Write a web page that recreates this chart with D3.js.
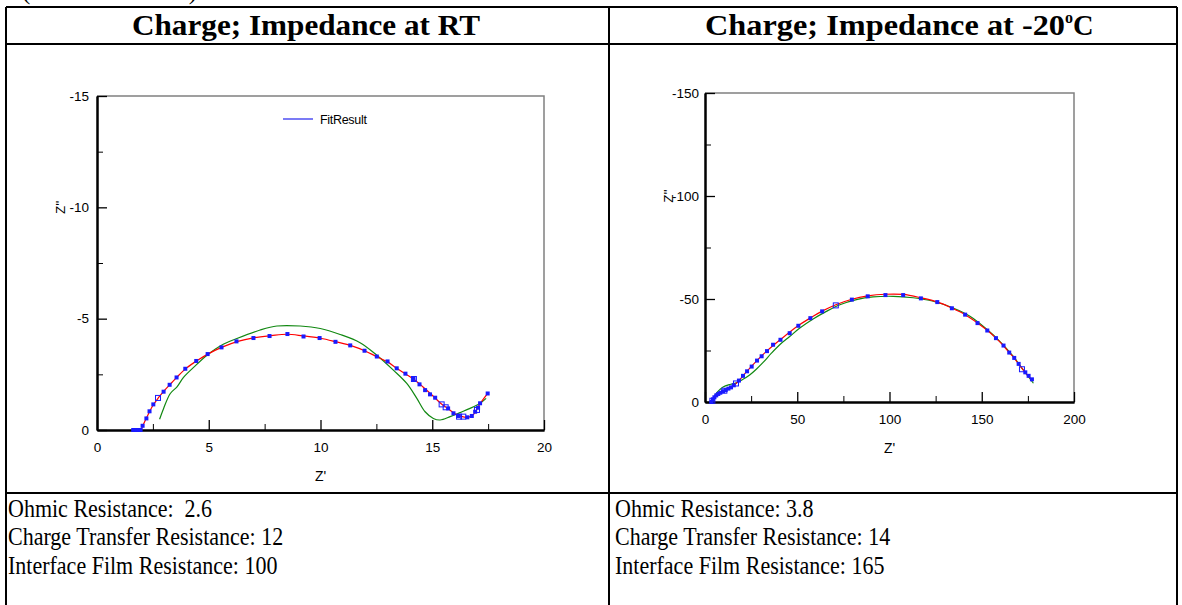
<!DOCTYPE html>
<html><head><meta charset="utf-8">
<script src="https://cdn.jsdelivr.net/npm/d3@7"></script>
<style>
html,body{margin:0;padding:0;background:#fff;}
svg{display:block;}
text.pre{white-space:pre;}
</style></head>
<body>
<svg id="c" width="1182" height="605"></svg>
<script>
// ---------- DATA ----------
const headers = ["Charge; Impedance at RT", "Charge; Impedance at -20"];
const notesLeft = ["Ohmic Resistance:  2.6", "Charge Transfer Resistance: 12", "Interface Film Resistance: 100"];
const notesRight = ["Ohmic Resistance: 3.8", "Charge Transfer Resistance: 14", "Interface Film Resistance: 165"];

const leftXTicks = [0, 5, 10, 15, 20];
const leftYTicks = [0, -5, -10, -15];
const rightXTicks = [0, 50, 100, 150, 200];
const rightYTicks = [0, -50, -100, -150];

// Z' vs Z'' (RT) measured points
const rtPoints = [[1.62,0],[1.7,0],[1.78,0],[1.86,0],[1.95,0],[2.04,-0.19],[2.21,-0.52],[2.35,-0.84],[2.52,-1.15],
 [2.98,-1.72],[3.25,-2.03],[3.56,-2.36],[3.95,-2.75],[4.44,-3.10],[4.95,-3.41],[5.57,-3.71],[6.24,-3.98],[7.0,-4.13],
 [7.72,-4.22],[8.52,-4.31],[9.24,-4.20],[9.96,-4.13],[10.67,-3.96],[11.33,-3.80],[11.97,-3.56],[12.52,-3.30],[13.0,-3.08],
 [13.41,-2.77],[13.80,-2.53],[14.16,-2.29],[14.43,-2.05],[14.68,-1.79],[14.90,-1.60],[15.13,-1.45],[15.71,-0.97],
 [15.95,-0.75],[16.17,-0.63],[16.57,-0.57],[16.77,-0.63],[16.92,-0.82],[17.05,-1.0],[17.14,-1.20],[17.48,-1.64]];
const rtPointsOpen = [[2.73,-1.44],[14.18,-2.29],[15.42,-1.15],[15.6,-1.02],[16.2,-0.6],[16.39,-0.60],[17.0,-0.9]];
// fit curve (red)
const rtFit = [[1.97,0],[2.1,-0.3],[2.3,-0.72],[2.5,-1.1],[2.75,-1.45],[3.0,-1.76],[3.3,-2.08],[3.6,-2.4],[4.0,-2.78],
 [4.5,-3.13],[5.0,-3.43],[5.6,-3.72],[6.3,-3.98],[7.0,-4.14],[7.8,-4.24],[8.5,-4.3],[9.2,-4.23],[10.0,-4.12],[10.7,-3.96],
 [11.4,-3.78],[12.0,-3.55],[12.5,-3.3],[13.0,-3.06],[13.4,-2.78],[13.8,-2.52],[14.2,-2.26],[14.6,-1.92],[15.0,-1.56],
 [15.4,-1.18],[15.7,-0.96],[16.0,-0.74],[16.3,-0.61],[16.6,-0.57],[16.85,-0.7],[17.1,-1.12],[17.48,-1.64]];
// simulated curve (green)
const rtSim = [[2.80,-0.48],[2.98,-0.97],[3.28,-1.64],[3.58,-1.94],[3.87,-2.36],[4.32,-2.81],[4.92,-3.36],[5.57,-3.81],
 [6.26,-4.11],[7.30,-4.49],[8.05,-4.67],[9.09,-4.67],[9.99,-4.56],[10.88,-4.29],[11.77,-3.92],[12.52,-3.36],[13.26,-2.69],
 [13.86,-2.09],[14.31,-1.42],[14.68,-0.82],[15.05,-0.52],[15.35,-0.45],[15.80,-0.60],[16.24,-0.78],[16.69,-0.97],
 [17.14,-1.20],[17.41,-1.42]];

// Z' vs Z'' (-20 C)
const lowPoints = [[3.6,0],[4.3,-1.3],[5.1,-2.3],[6.1,-3.2],[7.2,-3.9],[8.3,-4.5],[9.8,-5.2],[11.2,-5.8],[12.7,-6.5],
 [14.1,-7.1],[15.6,-8.1],[18.4,-10.4],[20.6,-12.7],[22.8,-14.9],[25.3,-17.2],[28.2,-20.1],[30.7,-22.2],[33.6,-24.7],
 [36.9,-27.8],[40.9,-30.2],[45.9,-33.4],[50.6,-37.0],[57.1,-40.7],[63.5,-44.0],[79.6,-49.7],[88.2,-51.3],
 [97.8,-51.9],[107.4,-51.9],[117.0,-50.3],[125.9,-48.5],[133.8,-45.5],[141.0,-42.4],[147.7,-38.3],[153.0,-34.7],
 [157.7,-31.0],[161.8,-27.4],[164.9,-24.0],[167.6,-21.4],[170.0,-18.5],[173.6,-14.4],[175.4,-12.7],[177.2,-11.0]];
const lowPointsOpen = [[4.0,-0.6],[10.5,-5.5],[16.8,-9.0],[70.9,-46.9],[171.8,-15.9]];
const lowFit = [[3.6,0],[4.5,-1.4],[6,-3.2],[8,-4.4],[10,-5.3],[12.7,-6.4],[15.6,-8.0],[18.4,-10.4],[22.8,-15.0],
 [28,-20.0],[33.6,-24.8],[40.9,-30.3],[50.6,-37.1],[57.1,-40.8],[63.5,-44.1],[70.9,-47.2],[79.6,-49.9],[88.2,-51.5],
 [97.8,-52.3],[107.4,-52.2],[117,-50.6],[125.9,-48.6],[133.8,-45.6],[141,-42.4],[147.7,-38.4],[153,-34.8],[157.7,-31],
 [161.8,-27.3],[164.9,-24],[167.6,-21.3],[170,-18.4],[173.6,-14.3],[177.5,-10.5]];
const lowSim = [[3.6,0],[5,-2.5],[6.1,-4.2],[8,-6.0],[9.8,-7.3],[13.4,-8.5],[17,-9.3],[20.6,-11.0],[24.2,-13.1],
 [27.8,-15.9],[31.5,-19.2],[36.0,-23.7],[40.5,-27.8],[45.9,-31.8],[51.4,-35.9],[58.6,-40.3],[65.8,-44.0],[73.1,-47.2],
 [82.1,-49.7],[91.1,-51.0],[102.0,-51.3],[112.8,-50.6],[123.7,-48.9],[134.5,-45.6],[143.6,-41.6],[152.6,-35.4],
 [159.8,-29.4],[167.1,-22.1],[172.5,-15.6],[178.0,-9.1]];

// ---------- DRAW ----------
const svg = d3.select("#c");
const serif = "'Liberation Serif','Times New Roman',serif";
const sans = "'Liberation Sans',Arial,sans-serif";

// clipped caption above table (cut off by the page edge, as in the source)
svg.append("text").attr("x", 22).attr("y", -1).attr("font-family", serif).attr("font-size", 25)
  .attr("textLength", 175).attr("lengthAdjust", "spacing").text("(continued)");

// table grid
const tbl = svg.append("g").attr("stroke", "#000").attr("stroke-width", 2);
[[6,7,1177,7],[6,44,1177,44],[6,493,1177,493],[6,7,6,605],[609,7,609,605],[1177,7,1177,605]].forEach(l =>
  tbl.append("line").attr("x1", l[0]).attr("y1", l[1]).attr("x2", l[2]).attr("y2", l[3]));

// headers
svg.append("text").attr("x", 132).attr("y", 35)
  .attr("font-family", serif).attr("font-weight", "bold").attr("font-size", 28.5)
  .attr("textLength", 348).attr("lengthAdjust", "spacingAndGlyphs").text(headers[0]);
const h2 = svg.append("text").attr("x", 705).attr("y", 35)
  .attr("font-family", serif).attr("font-weight", "bold").attr("font-size", 28.5);
h2.append("tspan").attr("textLength", 360).attr("lengthAdjust", "spacingAndGlyphs").text(headers[1]);
h2.append("tspan").attr("font-size", 16).attr("dy", -12).text("o");
h2.append("tspan").attr("dy", 12).text("C");

// notes (slightly condensed, as in the source)
function note(x, y, t) {
  const el = svg.append("text").attr("class", "pre").attr("x", x).attr("y", y)
    .attr("font-family", serif).attr("font-size", 25).text(t);
  const w = el.node().getComputedTextLength();
  el.attr("textLength", w * 0.88).attr("lengthAdjust", "spacingAndGlyphs");
}
notesLeft.forEach((t, i) => note(8, 517 + i * 28.3, t));
notesRight.forEach((t, i) => note(615, 517 + i * 28.3, t));

function panel(cfg) {
  const g = svg.append("g");
  const x = d3.scaleLinear().domain(cfg.xd).range([cfg.l, cfg.r]);
  const y = d3.scaleLinear().domain(cfg.yd).range([cfg.b, cfg.t]);
  const fmt = d => String(d);
  // top/right frame
  g.append("path").attr("d", `M${cfg.l},${cfg.t}H${cfg.r}V${cfg.b}`).attr("fill", "none")
    .attr("stroke", "#808080").attr("stroke-width", 1.5);
  // minor ticks
  const xa2 = g.append("g").attr("transform", `translate(0,${cfg.b})`)
    .call(d3.axisBottom(x).tickValues(cfg.xMinor).tickSize(-6).tickSizeOuter(0).tickFormat(""));
  const ya2 = g.append("g").attr("transform", `translate(${cfg.l},0)`)
    .call(d3.axisLeft(y).tickValues(cfg.yMinor).tickSize(-6).tickSizeOuter(0).tickFormat(""));
  // major
  const xa = g.append("g").attr("transform", `translate(0,${cfg.b})`)
    .call(d3.axisBottom(x).tickValues(cfg.xt).tickSize(-10).tickSizeOuter(0).tickPadding(12).tickFormat(fmt));
  const ya = g.append("g").attr("transform", `translate(${cfg.l},0)`)
    .call(d3.axisLeft(y).tickValues(cfg.yt).tickSize(-10).tickSizeOuter(0).tickPadding(cfg.pad).tickFormat(fmt));
  [xa, ya, xa2, ya2].forEach(a => {
    a.selectAll(".domain").attr("stroke", "#000").attr("stroke-width", 2);
    a.selectAll(".tick line").attr("stroke", "#000").attr("stroke-width", 1);
    a.selectAll("text").attr("font-family", sans).attr("font-size", 13.5).attr("fill", "#000");
  });
  xa.selectAll(".tick line").attr("stroke-width", 1.3);
  ya.selectAll(".tick line").attr("stroke-width", 1.3);
  // curves
  const line = d3.line().x(d => x(d[0])).y(d => y(d[1])).curve(d3.curveCatmullRom);
  g.append("path").datum(cfg.sim).attr("d", line).attr("fill", "none").attr("stroke", "#118811").attr("stroke-width", 1.2);
  g.append("path").datum(cfg.fit).attr("d", line).attr("fill", "none").attr("stroke", "#ff0000").attr("stroke-width", 1.2);
  g.selectAll("rect.p").data(cfg.pts).enter().append("rect")
    .attr("x", d => x(d[0]) - 2).attr("y", d => y(d[1]) - 2).attr("width", 4).attr("height", 4).attr("fill", "#1a1aff");
  g.selectAll("rect.o").data(cfg.open).enter().append("rect")
    .attr("x", d => x(d[0]) - 2.5).attr("y", d => y(d[1]) - 2.5).attr("width", 5).attr("height", 5)
    .attr("fill", "none").attr("stroke", "#1a1aff").attr("stroke-width", 1);
  // axis titles
  g.append("text").attr("x", (cfg.l + cfg.r) / 2).attr("y", cfg.b + 51).attr("text-anchor", "middle")
    .attr("font-family", sans).attr("font-size", 14).text("Z'");
  g.append("text").attr("transform", `translate(${cfg.ytx},${y(cfg.ytv)}) rotate(-90)`).attr("text-anchor", "middle")
    .attr("dy", "0.35em").attr("font-family", sans).attr("font-size", 13.5).text("Z''");
  return {g, x, y};
}

const L = panel({xd: [0, 20], yd: [0, -15], l: 97, r: 544, t: 96, b: 430, xt: leftXTicks, yt: leftYTicks,
  xMinor: [2.5, 7.5, 12.5, 17.5], yMinor: [-2.5, -7.5, -12.5], pad: 8, ytx: 60, ytv: -10,
  pts: rtPoints, open: rtPointsOpen, fit: rtFit, sim: rtSim});
// legend
L.g.append("line").attr("x1", 283).attr("x2", 313).attr("y1", 119).attr("y2", 119).attr("stroke", "#2222ee").attr("stroke-width", 1.2);
L.g.append("text").attr("x", 320).attr("y", 123.5).attr("font-family", sans).attr("font-size", 12.5)
  .attr("letter-spacing", -0.3).text("FitResult");

panel({xd: [0, 200], yd: [0, -150], l: 705, r: 1074, t: 93, b: 402, xt: rightXTicks, yt: rightYTicks,
  xMinor: [25, 75, 125, 175], yMinor: [-25, -75, -125], pad: 6, ytx: 668, ytv: -100,
  pts: lowPoints, open: lowPointsOpen, fit: lowFit, sim: lowSim});
</script>
</body></html>
